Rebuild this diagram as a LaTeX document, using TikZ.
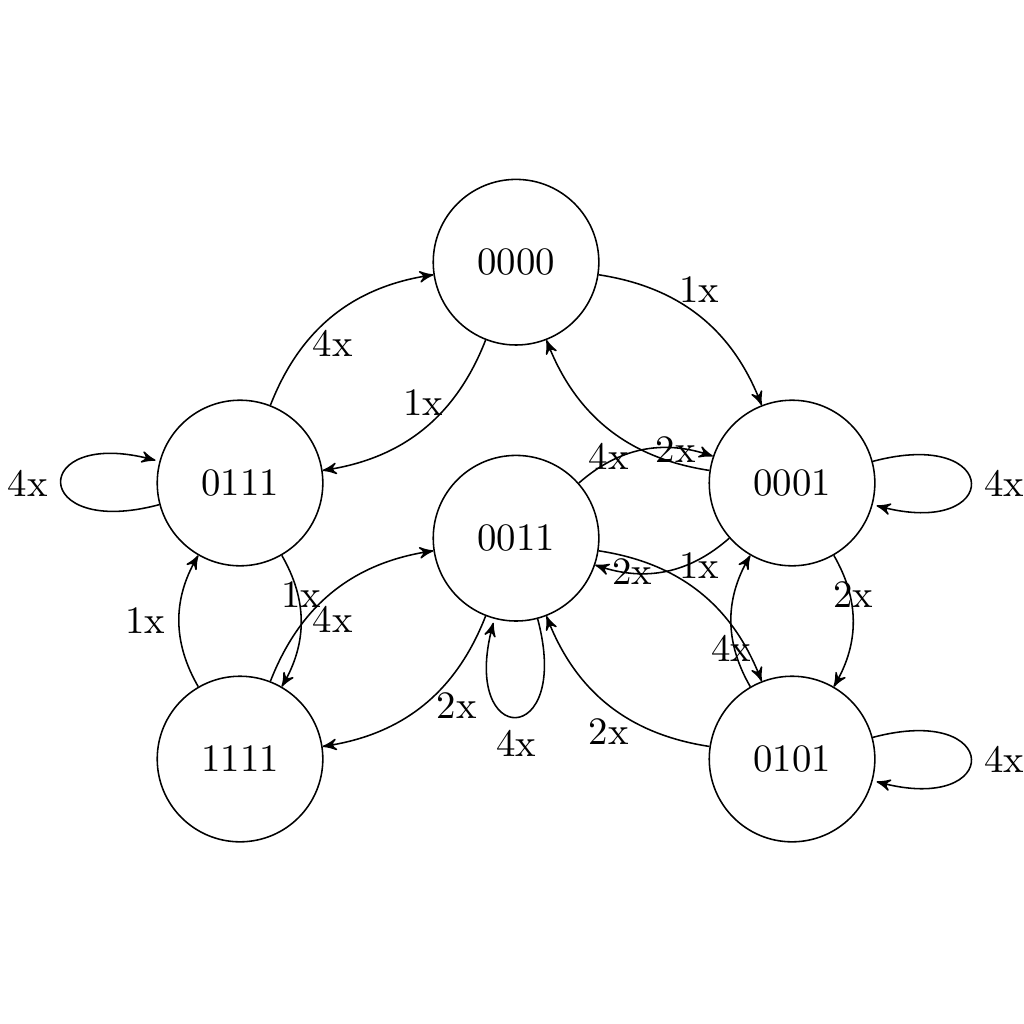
\documentclass[tikz,border=0pt]{standalone}
\usepackage{amsmath}
\usepackage{amssymb}
\usetikzlibrary{arrows}
\tikzset{st/.append style={minimum size=1.5cm, draw,circle,inner sep=0.05cm}}

\begin{document}
\begin{tikzpicture}[->,>=stealth']
                \useasboundingbox (-2.174,-4.9) rectangle (7.1,4.375);
                % states
                \node[st] (s0111) at (0,0) {0111};
                \node[st] (s0000) at (2.5,2) {0000};
                \node[st] (s0011) at (2.5,-0.5) {0011};
                \node[st] (s0001) at (5,0) {0001};
                \node[st] (s1111) at (0,-2.5) {1111};
                \node[st] (s0101) at (5,-2.5) {0101};
                \path (s0000) edge[bend left] node[above]{1x} (s0001);
                \path (s0001) edge[bend left] node[below]{4x} (s0000);
                \path (s0111) edge[bend left] node[below]{4x} (s0000);
                \path (s0000) edge[bend left] node[above]{1x} (s0111);
                \path (s0111) edge[loop left] node[left]{4x} (s0111);
                \path (s0001) edge[loop right] node[right]{4x} (s0001);
                \path (s0101) edge[loop right] node[right]{4x} (s0101);
                \path (s0011) edge[loop below] node[below]{4x} (s0011);
                \path (s0111) edge[bend left] node[above]{1x} (s1111);
                \path (s1111) edge[bend left] node[left]{1x} (s0111);
                \path (s1111) edge[bend left] node[below]{4x} (s0011);
                \path (s0011) edge[bend left] node[right]{2x} (s1111);
                \path (s0011) edge[bend left] node[right]{2x} (s0001);
                \path (s0001) edge[bend left] node[left]{2x} (s0011);
                \path (s0011) edge[bend left] node[above]{1x} (s0101);
                \path (s0101) edge[bend left] node[below]{2x} (s0011);
                \path (s0001) edge[bend left] node[above]{2x} (s0101);
                \path (s0101) edge[bend left] node[below]{4x} (s0001);
            \end{tikzpicture}
\end{document}
